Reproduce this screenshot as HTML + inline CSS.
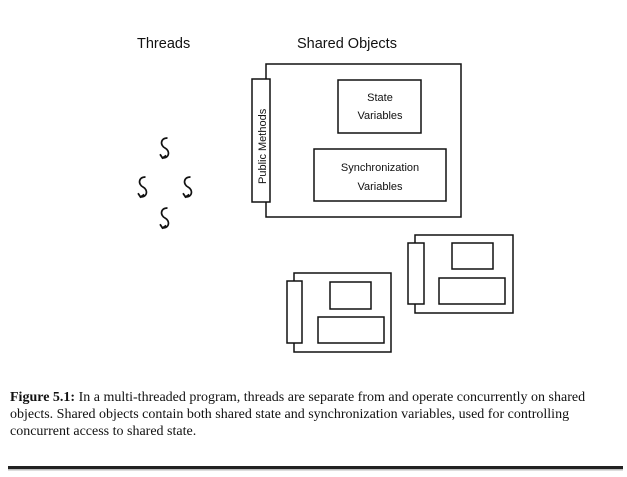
<!DOCTYPE html>
<html><head><style>
body{margin:0;width:627px;height:477px;background:#fff;position:relative;overflow:hidden}
.cap{position:absolute;left:10px;top:389px;width:598px;font-family:"Liberation Serif",serif;font-size:14px;line-height:17px;color:#111}
</style></head><body>
<svg width="627" height="477" style="position:absolute;left:0;top:0" font-family="Liberation Sans, sans-serif">
<g fill="none" stroke="#111" stroke-width="1.5">
<text x="137" y="48" font-size="14.5" fill="#111" stroke="none">Threads</text>
<text x="297" y="48" font-size="14.5" fill="#111" stroke="none">Shared Objects</text>
<rect x="266" y="64" width="195" height="153" fill="#fff"/>
<rect x="252" y="79" width="18" height="123" fill="#fff"/>
<rect x="338" y="80" width="83" height="53"/>
<rect x="314" y="149" width="132" height="52"/>
<text transform="translate(266,184) rotate(-90)" font-size="11" fill="#111" stroke="none">Public  Methods</text>
<text x="380" y="101" font-size="11" text-anchor="middle" fill="#111" stroke="none">State</text>
<text x="380" y="119" font-size="11" text-anchor="middle" fill="#111" stroke="none">Variables</text>
<text x="380" y="171" font-size="11" text-anchor="middle" fill="#111" stroke="none">Synchronization</text>
<text x="380" y="190" font-size="11" text-anchor="middle" fill="#111" stroke="none">Variables</text>
<rect x="415" y="235" width="98" height="78" fill="#fff"/>
<rect x="408" y="243" width="16" height="61" fill="#fff"/>
<rect x="452" y="243" width="41" height="26"/>
<rect x="439" y="278" width="66" height="26"/>
<rect x="294" y="273" width="97" height="79" fill="#fff"/>
<rect x="287" y="281" width="15" height="62" fill="#fff"/>
<rect x="330" y="282" width="41" height="27"/>
<rect x="318" y="317" width="66" height="26"/>
</g>
<g fill="none" stroke="#111" stroke-width="1.4">
<g transform="translate(165,148) scale(1.25)"><path d="M2,-8 C-4,-8 -4,-2 0,0 C4,2 4,8 -2,8"/><path d="M-4,5 L-2,8 L1,6"/></g>
<g transform="translate(143,187) scale(1.25)"><path d="M2,-8 C-4,-8 -4,-2 0,0 C4,2 4,8 -2,8"/><path d="M-4,5 L-2,8 L1,6"/></g>
<g transform="translate(188,187) scale(1.25)"><path d="M2,-8 C-4,-8 -4,-2 0,0 C4,2 4,8 -2,8"/><path d="M-4,5 L-2,8 L1,6"/></g>
<g transform="translate(165,218) scale(1.25)"><path d="M2,-8 C-4,-8 -4,-2 0,0 C4,2 4,8 -2,8"/><path d="M-4,5 L-2,8 L1,6"/></g>
</g>
<rect x="8" y="466" width="615" height="3" fill="#222"/>
<rect x="8" y="469" width="615" height="1.5" fill="#bbb"/>
</svg>
<div class="cap"><b>Figure 5.1:</b> In a multi-threaded program, threads are separate from and operate concurrently on shared objects. Shared objects contain both shared state and synchronization variables, used for controlling concurrent access to shared state.</div>
</body></html>
